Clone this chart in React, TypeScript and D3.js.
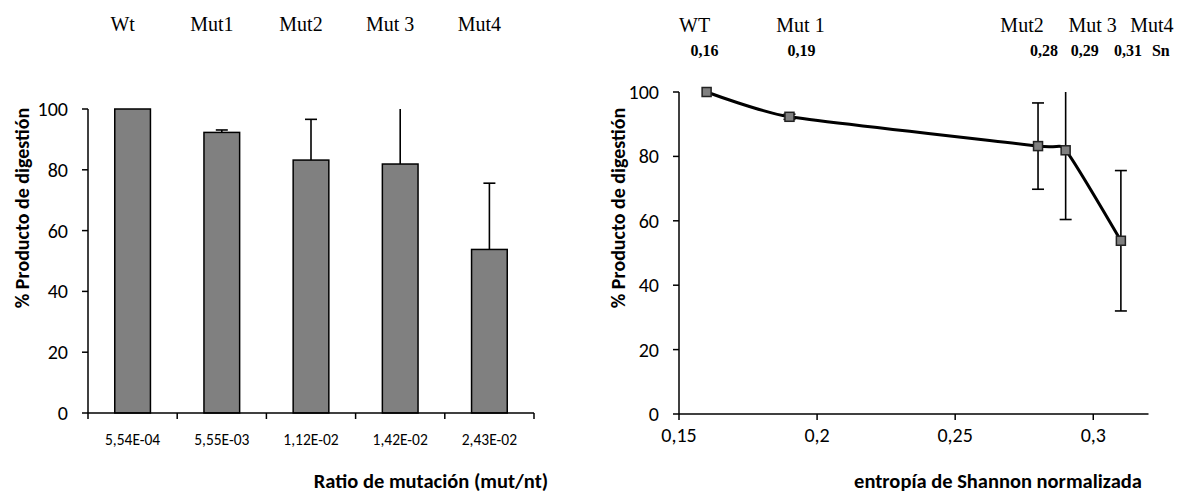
import React from 'react';
import * as d3 from 'd3';

const W = 1189;
const H = 495;

// left chart data
const CATEGORIES = ["Wt", "Mut1", "Mut2", "Mut 3", "Mut4"];
const RATIO_LABELS = ["5,54E-04", "5,55E-03", "1,12E-02", "1,42E-02", "2,43E-02"];
const DIGESTION = [100, 92.3, 83.2, 81.9, 53.8];
const ERRORS = [0, 0.8, 13.4, 21.5, 21.8];

// right chart data
const POINT_NAMES = ["WT", "Mut 1", "Mut2", "Mut 3", "Mut4"];
const ENTROPY = [0.16, 0.19, 0.28, 0.29, 0.31];
const ENTROPY_LABELS = ["0,16", "0,19", "0,28", "0,29", "0,31"];
const X_TICKS = [0.15, 0.2, 0.25, 0.3];
const Y_TICKS = [0, 20, 40, 60, 80, 100];

// small nudges of the floating header labels relative to their points
const NAME_NUDGE = [-12, 11, -16, 27, 31];
const NUM_NUDGE = [-2, 12, 6, 19, 7];

const SANS = "Carlito, Lato, 'Open Sans', sans-serif";
const SERIF = "'Liberation Serif', 'Times New Roman', serif";
const fmt = (v: number) => String(v).replace(".", ",");

export default function App() {
    const xL = d3.scaleBand<string>().domain(CATEGORIES).range([88, 534]).paddingInner(0.6).paddingOuter(0.3);
    const yL = d3.scaleLinear().domain([0, 100]).range([413, 109]);

    const xR = d3.scaleLinear().domain([0.15, 0.32]).range([679, 1148.5]);
    const yR = d3.scaleLinear().domain([0, 100]).range([414, 92]);

    const half = (xL.step() - xL.bandwidth()) / 2;
    const bounds = CATEGORIES.map(c => xL(c)! - half).concat([xL.range()[1]]);

    const pts = ENTROPY.map((e, i) => [xR(e), yR(DIGESTION[i])] as [number, number]);
    const line = d3.line().curve(d3.curveCardinal.tension(0.5))(pts) || "";

    const clip = (v: number) => Math.min(v, 100);

    return (
        <div style={{ position: "fixed", left: 0, top: 0 }}>
            <svg width={W} height={H} style={{ display: "block", background: "#fff" }}>
                {/* ---------- left chart ---------- */}
                {CATEGORIES.map((c, i) => (
                    <text key={"hn" + i} x={xL(c)! + xL.bandwidth() / 2 - 10} y={31}
                        fontFamily={SERIF} fontSize={20} textAnchor="middle">{c}</text>
                ))}
                <text transform={`translate(29,208) rotate(-90)`} textAnchor="middle"
                    fontFamily={SANS} fontWeight="bold" fontSize={20}>% Producto de digestión</text>

                {CATEGORIES.map((c, i) => {
                    const cx = xL(c)! + xL.bandwidth() / 2;
                    return (
                        <g key={"bar" + i}>
                            {ERRORS[i] > 0 && (
                                <g stroke="#000" strokeWidth={1.6}>
                                    <line x1={cx} x2={cx} y1={yL(DIGESTION[i])} y2={yL(clip(DIGESTION[i] + ERRORS[i]))} />
                                    {DIGESTION[i] + ERRORS[i] <= 100 && (
                                        <line x1={cx - 6} x2={cx + 6} y1={yL(DIGESTION[i] + ERRORS[i])} y2={yL(DIGESTION[i] + ERRORS[i])} />
                                    )}
                                </g>
                            )}
                            <rect x={xL(c)} y={yL(DIGESTION[i])} width={xL.bandwidth()} height={yL(0) - yL(DIGESTION[i])}
                                fill="#808080" stroke="#000" strokeWidth={1.5} />
                        </g>
                    );
                })}

                {/* left axes */}
                <g stroke="#000" strokeWidth={1.5}>
                    <line x1={88} x2={88} y1={yL(100)} y2={yL(0)} />
                    <line x1={88} x2={xL.range()[1]} y1={yL(0)} y2={yL(0)} />
                    {Y_TICKS.map(t => <line key={"lyt" + t} x1={82} x2={88} y1={yL(t)} y2={yL(t)} />)}
                    {bounds.map((b, i) => <line key={"lxt" + i} x1={b} x2={b} y1={yL(0)} y2={yL(0) + 6} />)}
                </g>
                {Y_TICKS.map(t => (
                    <text key={"lyl" + t} x={68} y={yL(t)} dy="0.35em" textAnchor="end"
                        fontFamily={SANS} fontSize={20}>{t}</text>
                ))}
                {CATEGORIES.map((c, i) => (
                    <text key={"lxl" + i} x={xL(c)! + xL.bandwidth() / 2} y={445} textAnchor="middle"
                        fontFamily={SANS} fontSize={15.5}>{RATIO_LABELS[i]}</text>
                ))}
                <text x={431} y={488} textAnchor="middle" fontFamily={SANS} fontWeight="bold" fontSize={20.5}>
                    Ratio de mutación (mut/nt)
                </text>

                {/* ---------- right chart ---------- */}
                {POINT_NAMES.map((n, i) => (
                    <text key={"rn" + i} x={xR(ENTROPY[i]) + NAME_NUDGE[i]} y={32}
                        fontFamily={SERIF} fontSize={20} textAnchor="middle">{n}</text>
                ))}
                {ENTROPY_LABELS.map((n, i) => (
                    <text key={"rv" + i} x={xR(ENTROPY[i]) + NUM_NUDGE[i]} y={56}
                        fontFamily={SERIF} fontSize={16} fontWeight="bold" textAnchor="middle">{n}</text>
                ))}
                <text x={xR(ENTROPY[4]) + NUM_NUDGE[4] + 24} y={56}
                    fontFamily={SERIF} fontSize={16} fontWeight="bold">Sn</text>

                <text transform={`translate(625,208) rotate(-90)`} textAnchor="middle"
                    fontFamily={SANS} fontWeight="bold" fontSize={20}>% Producto de digestión</text>

                <g stroke="#000" strokeWidth={1.5}>
                    <line x1={xR(0.15)} x2={xR(0.15)} y1={yR(100)} y2={yR(0)} />
                    <line x1={xR(0.15)} x2={xR(0.32)} y1={yR(0)} y2={yR(0)} />
                    {Y_TICKS.map(t => <line key={"ryt" + t} x1={xR(0.15) - 6} x2={xR(0.15)} y1={yR(t)} y2={yR(t)} />)}
                    {X_TICKS.map(t => <line key={"rxt" + t} x1={xR(t)} x2={xR(t)} y1={yR(0)} y2={yR(0) + 6} />)}
                </g>
                {Y_TICKS.map(t => (
                    <text key={"ryl" + t} x={xR(0.15) - 20} y={yR(t)} dy="0.35em" textAnchor="end"
                        fontFamily={SANS} fontSize={20}>{t}</text>
                ))}
                {X_TICKS.map(t => (
                    <text key={"rxl" + t} x={xR(t)} y={442} textAnchor="middle"
                        fontFamily={SANS} fontSize={20}>{fmt(t)}</text>
                ))}
                <text x={998} y={488} textAnchor="middle" fontFamily={SANS} fontWeight="bold" fontSize={20.5}>
                    entropía de Shannon normalizada
                </text>

                {/* error bars */}
                {ENTROPY.map((e, i) => ERRORS[i] > 0 && (
                    <g key={"re" + i} stroke="#000" strokeWidth={1.6}>
                        <line x1={xR(e)} x2={xR(e)} y1={yR(DIGESTION[i] - ERRORS[i])} y2={yR(clip(DIGESTION[i] + ERRORS[i]))} />
                        <line x1={xR(e) - 6} x2={xR(e) + 6} y1={yR(DIGESTION[i] - ERRORS[i])} y2={yR(DIGESTION[i] - ERRORS[i])} />
                        {DIGESTION[i] + ERRORS[i] <= 100 && (
                            <line x1={xR(e) - 6} x2={xR(e) + 6} y1={yR(DIGESTION[i] + ERRORS[i])} y2={yR(DIGESTION[i] + ERRORS[i])} />
                        )}
                    </g>
                ))}
                <path d={line} fill="none" stroke="#000" strokeWidth={3} />
                {pts.map((p, i) => (
                    <rect key={"m" + i} x={p[0] - 4.5} y={p[1] - 4.5} width={9} height={9}
                        fill="#808080" stroke="#222" strokeWidth={1.5} />
                ))}
            </svg>
        </div>
    );
}
